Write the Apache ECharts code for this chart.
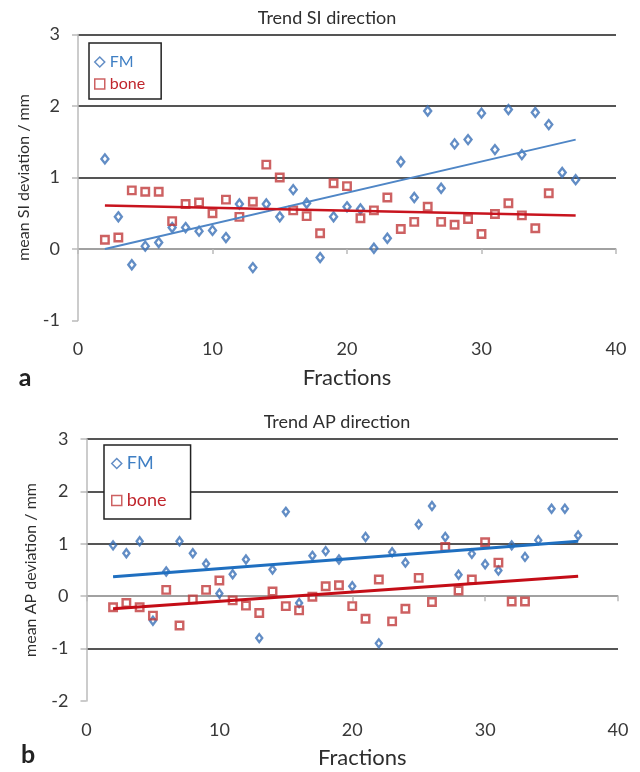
<!DOCTYPE html>
<html>
<head>
<meta charset="utf-8">
<script src="https://cdn.jsdelivr.net/npm/echarts@6/dist/echarts.min.js"></script>
<style>
html,body{margin:0;padding:0;background:#fff;}
#chart{width:640px;height:772px;}
</style>
</head>
<body>
<div id="chart"></div>
<script>
// ---- data ----
var siFMx = [2,3,4,5,6,7,8,9,10,11,12,13,14,15,16,17,18,19,20,21,22,23,24,25,26,27,28,29,30,31,32,33,34,35,36,37];
var siFM = [1.26,0.45,-0.22,0.04,0.09,0.30,0.30,0.25,0.26,0.16,0.63,-0.26,0.63,0.45,0.83,0.64,-0.12,0.45,0.59,0.56,0.01,0.15,1.22,0.72,1.93,0.85,1.47,1.53,1.90,1.39,1.95,1.32,1.91,1.74,1.07,0.97];
var siBonex = [2,3,4,5,6,7,8,9,10,11,12,13,14,15,16,17,18,19,20,21,22,23,24,25,26,27,28,29,30,31,32,33,34,35];
var siBone = [0.13,0.16,0.82,0.80,0.80,0.39,0.63,0.65,0.50,0.69,0.45,0.66,1.18,1.00,0.54,0.46,0.22,0.92,0.88,0.43,0.54,0.72,0.28,0.38,0.59,0.38,0.34,0.42,0.21,0.49,0.64,0.47,0.29,0.78];

var apFMx = [2,3,4,5,6,7,8,9,10,11,12,13,14,15,16,17,18,19,20,21,22,23,24,25,26,27,28,29,30,31,32,33,34,35,36,37];
var apFM = [0.97,0.82,1.05,-0.47,0.47,1.05,0.82,0.62,0.05,0.42,0.70,-0.80,0.51,1.61,-0.13,0.77,0.86,0.70,0.19,1.13,-0.90,0.84,0.64,1.37,1.72,1.13,0.41,0.81,0.61,0.49,0.97,0.75,1.07,1.67,1.67,1.16];
var apBonex = [2,3,4,5,6,7,8,9,10,11,12,13,14,15,16,17,18,19,20,21,22,23,24,25,26,27,28,29,30,31,32,33];
var apBone = [-0.21,-0.13,-0.21,-0.37,0.12,-0.56,-0.06,0.12,0.30,-0.08,-0.18,-0.32,0.09,-0.19,-0.27,-0.01,0.19,0.21,-0.19,-0.43,0.32,-0.48,-0.24,0.35,-0.11,0.94,0.11,0.32,1.03,0.64,-0.10,-0.10];

// trend lines (end points)
var trendX = [2, 37];
var siFMTrend = [0.00, 1.53];
var siBoneTrend = [0.61, 0.47];
var apFMTrend = [0.37, 1.05];
var apBoneTrend = [-0.24, 0.38];

var xTicks = [0, 10, 20, 30, 40];
var siTicks = [-1, 0, 1, 2, 3];
var apTicks = [-2, -1, 0, 1, 2, 3];

// ---- styling ----
var FONT = 'Lato';
var BLUE = '#3b70b6';
var RED = '#c0393b';
var GRID_DARK = '#555555';
var AXIS_LIGHT = '#bbbbbb';
var TXT = '#2e2e2e';

function pairs(xs, ys){ return xs.map(function(x,i){ return [x, ys[i]]; }); }

function xAxisCfg(gi, gapLeftPad){
  return {
    gridIndex: gi, type: 'value', min: xTicks[0], max: xTicks[xTicks.length-1], interval: 10,
    name: 'Fractions', nameLocation: 'middle', nameGap: 46,
    nameTextStyle: {fontFamily: FONT, fontSize: 22, color: TXT, padding: [0,0,0,gapLeftPad]},
    axisLine: {show: true, lineStyle: {color: AXIS_LIGHT, width: 1.5}},
    axisTick: {show: true, length: 5, lineStyle: {color: AXIS_LIGHT, width: 1.5}},
    axisLabel: {fontFamily: FONT, fontSize: 18, color: '#383838', margin: 20},
    splitLine: {show: false}
  };
}
function yAxisCfg(gi, ticks, name, gap){
  return {
    gridIndex: gi, type: 'value', min: ticks[0], max: ticks[ticks.length-1], interval: 1,
    name: name, nameLocation: 'middle', nameGap: gap, nameRotate: 90,
    nameTextStyle: {fontFamily: FONT, fontSize: 16, color: TXT},
    axisLine: {show: true, lineStyle: {color: AXIS_LIGHT, width: 1.5}},
    axisTick: {show: true, length: 6, lineStyle: {color: AXIS_LIGHT, width: 1.5}},
    axisLabel: {fontFamily: FONT, fontSize: 18, color: '#383838', margin: 18},
    splitLine: {show: true, showMinLine: false, lineStyle: {color: GRID_DARK, width: 2}}
  };
}
function scatter(name, xs, ys, xi, yi, symbol, size, color){
  return {
    name: name, type: 'scatter', xAxisIndex: xi, yAxisIndex: yi,
    symbol: symbol, symbolSize: size,
    itemStyle: {color: 'rgba(255,255,255,0)', borderColor: color, borderWidth: 2.4},
    data: pairs(xs, ys), z: 3
  };
}
function trend(xs, ys, xi, yi, color, width){
  return {
    type: 'line', xAxisIndex: xi, yAxisIndex: yi, data: pairs(xs, ys),
    showSymbol: false, symbol: 'none', silent: true,
    lineStyle: {color: color, width: width}, z: 4
  };
}

var option = {
  backgroundColor: '#fff',
  animation: false,
  grid: [
    {left: 78, top: 34.5, width: 538, height: 286},
    {left: 86.5, top: 439, width: 531.5, height: 262}
  ],
  xAxis: [xAxisCfg(0, 0), xAxisCfg(1, 20)],
  yAxis: [yAxisCfg(0, siTicks, 'mean SI deviation / mm', 40), yAxisCfg(1, apTicks, 'mean AP deviation / mm', 48)],
  legend: [
    {
      orient: 'vertical', left: 89, top: 43, itemWidth: 10, itemHeight: 10, itemGap: 6,
      padding: [11, 16, 7, 5], borderColor: '#222', borderWidth: 1.5, backgroundColor: '#fff',
      textStyle: {fontFamily: FONT, fontSize: 16, lineHeight: 15},
      data: [
        {name: 'FM', icon: 'diamond', textStyle: {color: '#3f7fc4'}, itemStyle: {color: 'rgba(255,255,255,0)', borderColor: BLUE, borderWidth: 1.5}},
        {name: 'bone', icon: 'rect', textStyle: {color: '#c0262d'}, itemStyle: {color: 'rgba(255,255,255,0)', borderColor: RED, borderWidth: 1.5}}
      ]
    },
    {
      orient: 'vertical', left: 104, top: 445, itemWidth: 10, itemHeight: 10, itemGap: 18,
      padding: [9, 24, 9, 7], borderColor: '#222', borderWidth: 1.5, backgroundColor: '#fff',
      textStyle: {fontFamily: FONT, fontSize: 18, lineHeight: 19},
      data: [
        {name: 'FM', icon: 'diamond', textStyle: {color: '#3f7fc4'}, itemStyle: {color: 'rgba(255,255,255,0)', borderColor: BLUE, borderWidth: 1.5}},
        {name: 'bone', icon: 'rect', textStyle: {color: '#c0262d'}, itemStyle: {color: 'rgba(255,255,255,0)', borderColor: RED, borderWidth: 1.5}}
      ]
    }
  ],
  graphic: [
    {type: 'text', x: 327, y: 18, style: {text: 'Trend SI direction', fontFamily: FONT, fontSize: 18, fill: TXT, align: 'center', verticalAlign: 'middle'}},
    {type: 'text', x: 337, y: 422, style: {text: 'Trend AP direction', fontFamily: FONT, fontSize: 18, fill: TXT, align: 'center', verticalAlign: 'middle'}},
    {type: 'text', x: 25, y: 378, style: {text: 'a', fontFamily: FONT, fontSize: 25, fontWeight: 'bold', fill: '#222', align: 'center', verticalAlign: 'middle'}},
    {type: 'text', x: 28, y: 755, style: {text: 'b', fontFamily: FONT, fontSize: 25, fontWeight: 'bold', fill: '#222', align: 'center', verticalAlign: 'middle'}}
  ],
  series: [
    scatter('FM', siFMx, siFM, 0, 0, 'diamond', [7, 9], BLUE),
    scatter('bone', siBonex, siBone, 0, 0, 'rect', 7.5, RED),
    trend(trendX, siFMTrend, 0, 0, '#4f86c6', 2),
    trend(trendX, siBoneTrend, 0, 0, '#c8141e', 2.5),
    scatter('FM', apFMx, apFM, 1, 1, 'diamond', [6, 8], BLUE),
    scatter('bone', apBonex, apBone, 1, 1, 'rect', 7.5, RED),
    trend(trendX, apFMTrend, 1, 1, '#1f6fc0', 3),
    trend(trendX, apBoneTrend, 1, 1, '#c40d17', 3)
  ]
};

var chart = echarts.init(document.getElementById('chart'), null, {renderer: 'canvas'});
chart.setOption(option);
</script>
</body>
</html>
